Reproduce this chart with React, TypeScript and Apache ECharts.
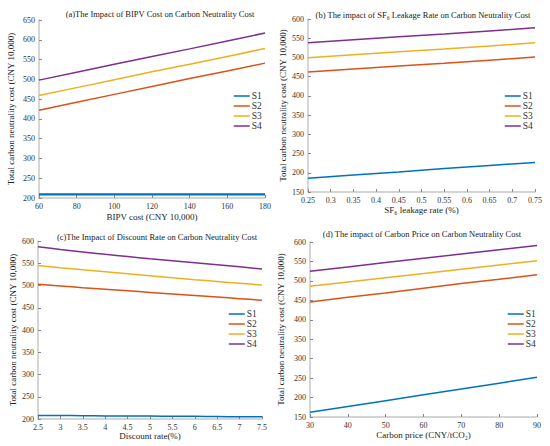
import React, { useEffect, useRef } from "react";
import * as echarts from "echarts";

const seriesNames = ["S1", "S2", "S3", "S4"];
const colors = ["#0072BD", "#D95319", "#EDB120", "#7E2F8E"];

// (a) BIPV cost
const xA = [60, 80, 100, 120, 140, 160, 180];
const aS1 = [209, 209, 209, 209, 209, 209, 209];
const aS2 = [422, 442, 462, 482, 502, 521, 541];
const aS3 = [459, 479, 499, 519, 538, 558, 578];
const aS4 = [498, 518, 538, 558, 577, 597, 617];

// (b) SF6 leakage rate
const xB = [0.25, 0.35, 0.45, 0.55, 0.65, 0.75];
const bS1 = [186, 194, 202, 211, 219, 227];
const bS2 = [462, 470, 478, 485, 493, 501];
const bS3 = [499, 507, 515, 522, 530, 538];
const bS4 = [538, 546, 554, 561, 569, 577];

// (c) discount rate
const xC = [2.5, 3, 3.5, 4, 4.5, 5, 5.5, 6, 6.5, 7, 7.5];
const cS1 = [208, 208, 207.5, 207, 207, 206.5, 206, 206, 205.5, 205, 205];
const cS2 = [503, 499, 495, 491.5, 488, 484.5, 481, 477.5, 474, 470.5, 467];
const cS3 = [545, 540, 535.5, 531, 526.5, 522, 517.5, 513, 509, 505, 501];
const cS4 = [587, 581, 575.5, 570, 565, 560, 555.5, 551, 546.5, 542, 537];

// (d) carbon price
const xD = [30, 40, 50, 60, 70, 80, 90];
const dS1 = [162, 177, 192, 207, 222, 237, 252];
const dS2 = [446, 458, 469, 481, 493, 504, 516];
const dS3 = [486, 497, 508, 519, 530, 541, 552];
const dS4 = [525, 536, 547, 558, 569, 580, 591];

const titles = [
  "(a)The Impact of BIPV Cost on Carbon Neutrality Cost",
  "(b) The impact of SF\u2086 Leakage Rate on Carbon Neutrality Cost",
  "(c)The Impact of Discount Rate on Carbon Neutrality Cost",
  "(d) The impact of Carbon Price on Carbon Neutrality Cost",
];
const xNames = [
  "BIPV cost (CNY 10,000)",
  "SF\u2086 leakage rate (%)",
  "Discount rate(%)",
  "Carbon price (CNY/tCO\u2082)",
];
const yName = "Total carbon neutrality cost (CNY 10,000)";

const FONT = "Liberation Serif";

export default function App() {
  const ref = useRef<HTMLDivElement>(null);
  useEffect(() => {
    if (!ref.current) return;
    const chart = echarts.init(ref.current, null, { renderer: "svg" });

    const grids = [
      { left: 39, top: 20, width: 226, height: 178 },
      { left: 308, top: 19, width: 227, height: 173 },
      { left: 38, top: 241, width: 224, height: 178 },
      { left: 310, top: 242, width: 227, height: 175 },
    ];
    const titlePos = [
      { x: 155, y: 4 },
      { x: 418, y: 5 },
      { x: 152, y: 227 },
      { x: 417, y: 224 },
    ];
    const xRanges = [
      { min: 60, max: 180, interval: 20 },
      { min: 0.25, max: 0.75, interval: 0.05 },
      { min: 2.5, max: 7.5, interval: 0.5 },
      { min: 30, max: 90, interval: 10 },
    ];
    const yRanges = [
      { min: 200, max: 650, interval: 50 },
      { min: 150, max: 600, interval: 50 },
      { min: 200, max: 600, interval: 50 },
      { min: 150, max: 600, interval: 50 },
    ];
    const yNameGaps = [24, 21, 21, 25];
    const xNameGaps = [14, 13, 12, 13];
    const legendPos = [
      { left: 233, top: 91 },
      { left: 504, top: 91 },
      { left: 228, top: 309 },
      { left: 507, top: 309 },
    ];

    const panels = [
      { x: xA, ys: [aS1, aS2, aS3, aS4] },
      { x: xB, ys: [bS1, bS2, bS3, bS4] },
      { x: xC, ys: [cS1, cS2, cS3, cS4] },
      { x: xD, ys: [dS1, dS2, dS3, dS4] },
    ];

    const axisCommon = {
      axisLine: { show: true, lineStyle: { color: "#c8c8c8", width: 1.5 } },
      axisTick: { show: true, inside: true, length: 3, lineStyle: { color: "#888" } },
      splitLine: { show: false },
      axisLabel: { color: "#333", fontSize: 8, fontFamily: FONT, margin: 4 },
      nameTextStyle: { color: "#222", fontSize: 9, fontFamily: FONT },
    };

    const fmt = (v: number) => String(Math.round(v * 1000) / 1000);

    const series: any[] = [];
    panels.forEach((p, gi) => {
      p.ys.forEach((ys, si) => {
        series.push({
          type: "line",
          name: seriesNames[si],
          xAxisIndex: gi,
          yAxisIndex: gi,
          data: p.x.map((xv, i) => [xv, ys[i]]),
          symbol: "none",
          showSymbol: false,
          smooth: gi === 2 ? 0.3 : false,
          lineStyle: { color: colors[si], width: gi === 0 && si === 0 ? 2.2 : 1.5 },
          itemStyle: { color: colors[si] },
        });
      });
    });

    chart.setOption({
      animation: false,
      backgroundColor: "#ffffff",
      color: colors,
      title: titles.map((t, i) => ({
        text: t,
        left: titlePos[i].x,
        top: titlePos[i].y,
        textAlign: "center",
        textStyle: { fontSize: 8.5, fontWeight: "normal", color: "#222", fontFamily: FONT },
      })),
      grid: grids,
      legend: legendPos.map((lp) => ({
        data: seriesNames,
        orient: "vertical",
        left: lp.left,
        top: lp.top,
        itemWidth: 16,
        itemHeight: 6,
        itemGap: 0,
        padding: 0,
        itemStyle: { opacity: 0 },
        lineStyle: { width: 1.5 },
        textStyle: { fontSize: 9.5, lineHeight: 9.6, fontFamily: FONT, color: "#333", padding: [0, 0, 0, -3] },
      })),
      xAxis: xRanges.map((r, i) => ({
        type: "value",
        gridIndex: i,
        min: r.min,
        max: r.max,
        interval: r.interval,
        name: xNames[i],
        nameLocation: "middle",
        nameGap: xNameGaps[i],
        ...axisCommon,
        axisLabel: { ...axisCommon.axisLabel, formatter: fmt },
      })),
      yAxis: yRanges.map((r, i) => ({
        type: "value",
        gridIndex: i,
        min: r.min,
        max: r.max,
        interval: r.interval,
        name: yName,
        nameLocation: "middle",
        nameGap: yNameGaps[i],
        ...axisCommon,
      })),
      series,
    });
    return () => chart.dispose();
  }, []);
  return (
    <div
      ref={ref}
      style={{ position: "absolute", left: 0, top: 0, width: 550, height: 446, background: "#fff" }}
    />
  );
}
